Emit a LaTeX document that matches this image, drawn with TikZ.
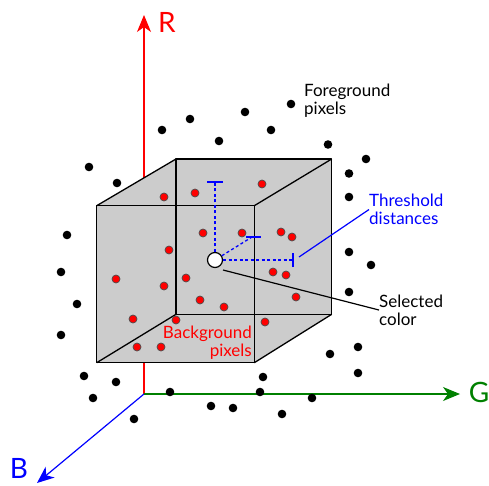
\documentclass[tikz,border=0pt]{standalone}
\usepackage{fontspec}
\setmainfont{Lato}
\usetikzlibrary{arrows.meta}

\begin{document}
\begin{tikzpicture}[x=1pt,y=-1pt,
  axis/.style={line width=1.2pt,-{Stealth[length=17pt,width=14pt,inset=5pt]}},
  edge/.style={line width=1.3pt,line join=round},
  bgdot/.style={fill=red,draw=black!70,line width=0.7pt},
  fgdot/.style={fill=black},
  thresh/.style={blue,line width=1.3pt,dash pattern=on 3pt off 2.5pt},
  lbl/.style={font=\fontsize{17}{18}\selectfont,inner sep=0pt},
  axlbl/.style={font=\fontsize{28}{30}\selectfont,inner sep=0pt}]

\useasboundingbox (0,0) rectangle (489,486);

% axes
\coordinate (O) at (144,394);
\coordinate (Rtip) at (144,15);
\coordinate (Gtip) at (460,394);
\coordinate (Btip) at (37,483);
\draw[axis,red] (O) -- (Rtip);
\draw[axis,green!50!black] (O) -- (Gtip);
\draw[axis,blue] (O) -- (Btip);
\node[axlbl,red] (Rlabel) at (167,22) {R};
\node[axlbl,green!50!black] (Glabel) at (479,392) {G};
\node[axlbl,blue] (Blabel) at (19,468) {B};

% cube
\coordinate (fbl) at (96.7,362.7);
\coordinate (fbr) at (254.3,362.7);
\coordinate (ftr) at (254.3,205.7);
\coordinate (ftl) at (96.7,205.7);
\coordinate (bbl) at (176,314.3);
\coordinate (bbr) at (331.7,314.3);
\coordinate (btr) at (331.7,159);
\coordinate (btl) at (176,159);
\fill[gray!40] (fbl) -- (ftl) -- (btl) -- (btr) -- (bbr) -- (fbr) -- cycle;
\draw[edge] (fbl) -- (fbr) -- (ftr) -- (ftl) -- cycle;
\draw[edge] (bbl) -- (bbr) -- (btr) -- (btl) -- cycle;
\foreach \f/\b in {fbl/bbl,fbr/bbr,ftr/btr,ftl/btl}
  \draw[edge] (\f) -- (\b);

% background pixels
\foreach \p in {(164,197),(195,193),(262,184),(203,233),(242,233),(281,232),
  (292,237),(169,250),(116,279),(164,286),(186,278),(273,272),(286,275),
  (200,300),(224,307),(296,297),(133,319),(176,320),(265,322),(137,347),(161,347)}
  \filldraw[bgdot] \p circle (4pt);

% foreground pixels
\foreach \p in {(162,130),(190,119),(219,141),(245,112),(271,130),(291,104),
  (328,144.5),(366,159),(349,173.5),(349,197),(349,252),(371,265),(349,292),
  (330,354),(358,347),(358,373),(312,398),(282,414),(263,377),(260,392),
  (233,408),(211,406),(170,392),(134,419),(116,382),(93,398),(84,376),
  (61,335),(77,304),(61,272),(67,235),(89,167),(117,183)}
  \fill[fgdot] \p circle (4.3pt);

% selected color and thresholds
\node[circle,draw,fill=white,line width=1.2pt,minimum size=15pt,inner sep=0pt] (sel) at (215,260) {};
\coordinate (tR) at (215,182);
\coordinate (tG) at (293,260);
\coordinate (tB) at (252,237);
\draw[thresh] (sel) -- (tR);
\draw[thresh] (sel) -- (tG);
\draw[thresh] (sel) -- (tB);
\draw[blue,line width=1.3pt] ([xshift=-8]tR) -- ([xshift=8]tR);
\draw[blue,line width=1.3pt] ([yshift=-7]tG) -- ([yshift=7]tG);
\draw[blue,line width=1.3pt] ([xshift=-6]tB) -- ([xshift=9]tB);

% labels
\node[lbl,anchor=north west,align=left] (fgtext) at (304,84) {Foreground\\pixels};
\node[lbl,anchor=north west,align=left,blue] (threshtext) at (369,194) {Threshold\\distances};
\node[lbl,anchor=north west,align=left] (seltext) at (379,294.5) {Selected\\color};
\node[lbl,anchor=north east,align=right,red] (bgtext) at (252,326) {Background\\pixels};

\coordinate (tfoot) at (299,257);
\coordinate (selfoot) at (223,270);
\draw[blue,line width=1.2pt] (tfoot) -- (threshtext.west);
\draw[line width=1.2pt] (selfoot) -- (seltext.west);
\end{tikzpicture}
\end{document}
